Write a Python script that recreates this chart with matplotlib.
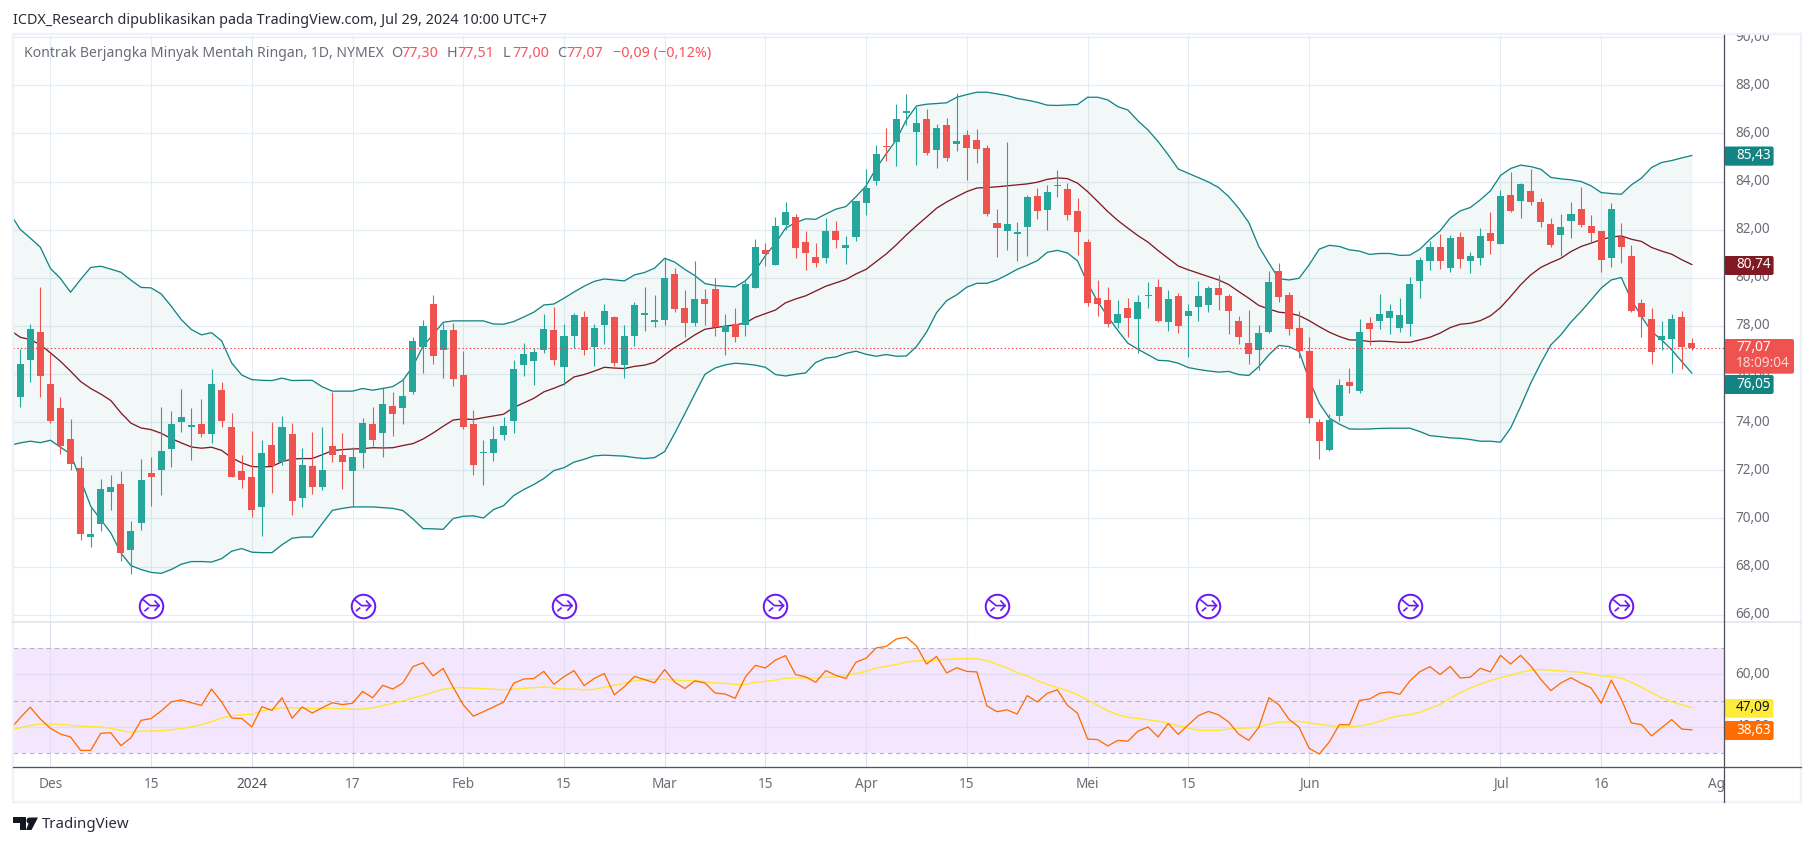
import matplotlib
matplotlib.use("Agg")
import matplotlib.pyplot as plt
import numpy as np
from matplotlib.patches import FancyBboxPatch, Polygon, Circle, Rectangle

# daily candles, Nov 28 2023 - Jul 29 2024
opens = [
    75.06, 76.57, 77.76, 75.60, 74.61, 73.32, 72.11, 69.25, 69.75, 71.12,
    71.45, 68.71, 69.83, 71.91, 72.03, 72.90, 74.02, 73.78, 73.94, 73.53,
    75.35, 73.82, 71.99, 71.74, 70.49, 73.07, 72.36, 73.53, 70.87, 72.20,
    71.32, 73.03, 72.65, 71.99, 72.70, 73.94, 73.57, 74.69, 74.57, 75.27,
    77.14, 78.93, 77.02, 77.85, 75.98, 73.94, 72.74, 72.74, 73.48, 74.07,
    76.39, 76.56, 77.02, 77.85, 76.31, 77.60, 78.35, 77.14, 78.04, 78.37,
    76.38, 77.58, 78.46, 78.17, 78.25, 80.16, 78.75, 78.13, 79.12, 79.54,
    77.75, 78.08, 78.04, 79.58, 81.16, 80.53, 82.20, 82.53, 81.49, 80.87,
    80.83, 81.95, 81.24, 81.70, 83.11, 84.02, 85.48, 85.65, 86.85, 86.06,
    86.60, 85.31, 86.35, 85.56, 85.94, 85.73, 85.40, 82.28, 81.95, 81.82,
    82.11, 83.40, 82.82, 83.82, 83.69, 82.78, 81.49, 79.16, 79.08, 78.13,
    78.75, 78.29, 79.25, 79.62, 78.17, 79.25, 78.42, 78.79, 78.87, 79.58,
    79.25, 78.21, 77.30, 77.00, 77.75, 80.29, 79.29, 77.92, 76.96, 74.01,
    72.85, 74.26, 75.68, 75.30, 78.13, 78.21, 78.34, 77.92, 78.09, 79.87,
    80.70, 81.29, 80.41, 81.70, 80.70, 80.83, 81.87, 81.41, 83.45, 83.20,
    83.61, 83.16, 82.24, 81.78, 82.37, 82.86, 82.16, 81.95, 80.83, 81.70,
    80.91, 78.96, 78.29, 77.42, 77.46, 78.38, 77.30,
]
closes = [
    76.43, 77.89, 75.94, 74.07, 73.03, 72.28, 69.37, 69.37, 71.24, 71.32,
    68.58, 69.50, 71.61, 71.74, 72.82, 73.94, 74.23, 73.90, 73.53, 75.60,
    74.07, 71.74, 71.61, 70.37, 72.74, 72.16, 73.82, 70.74, 72.24, 71.32,
    72.03, 72.65, 72.36, 72.57, 73.98, 73.24, 74.77, 74.36, 75.10, 77.39,
    78.01, 76.77, 77.85, 75.81, 73.82, 72.24, 72.78, 73.32, 73.86, 76.23,
    76.85, 76.93, 77.89, 76.60, 77.60, 78.47, 77.02, 77.93, 78.62, 76.46,
    77.58, 78.87, 78.54, 78.25, 79.99, 78.71, 78.13, 79.12, 78.91, 77.96,
    78.00, 77.54, 79.75, 81.28, 80.99, 82.16, 82.74, 81.24, 81.03, 80.62,
    81.95, 81.57, 81.37, 83.19, 83.73, 85.15, 85.42, 86.60, 86.93, 86.43,
    85.19, 86.23, 84.98, 85.69, 85.40, 85.35, 82.65, 82.07, 82.24, 81.91,
    83.36, 82.78, 83.57, 83.86, 82.61, 81.91, 78.96, 78.91, 78.08, 78.50,
    78.33, 79.00, 79.29, 78.21, 79.12, 78.00, 78.62, 79.25, 79.58, 79.29,
    78.63, 77.55, 76.84, 77.71, 79.83, 79.21, 77.88, 76.96, 74.18, 73.22,
    74.10, 75.55, 75.51, 77.75, 77.88, 78.50, 78.63, 78.46, 79.75, 80.75,
    81.29, 80.70, 81.66, 80.79, 80.91, 81.74, 81.53, 83.40, 82.78, 83.90,
    83.16, 82.32, 81.37, 82.12, 82.66, 82.20, 81.87, 80.75, 82.86, 81.29,
    78.63, 78.38, 76.92, 77.59, 78.29, 77.13, 77.07,
]
highs = [
    77.06, 78.10, 79.62, 76.88, 75.06, 74.15, 72.61, 70.50, 71.66, 71.82,
    71.99, 69.91, 72.49, 72.57, 74.65, 74.48, 75.40, 74.61, 74.98, 76.19,
    75.69, 74.40, 72.65, 73.65, 73.24, 74.02, 74.27, 73.98, 72.94, 73.61,
    73.82, 75.27, 73.57, 72.99, 74.19, 74.65, 75.48, 75.27, 75.85, 77.52,
    78.26, 79.30, 78.12, 78.14, 76.97, 74.52, 73.28, 73.86, 74.23, 76.60,
    77.31, 77.10, 78.51, 78.80, 78.10, 78.55, 78.60, 78.10, 78.91, 78.42,
    78.04, 79.00, 79.62, 79.29, 80.83, 80.41, 79.50, 80.70, 79.54, 79.99,
    78.50, 78.75, 79.87, 81.61, 81.45, 82.53, 83.15, 82.65, 81.95, 81.45,
    82.49, 82.36, 81.74, 83.19, 84.52, 85.52, 86.23, 87.22, 87.64, 87.11,
    87.02, 86.39, 86.64, 87.68, 86.14, 86.19, 85.52, 82.86, 85.65, 82.32,
    83.44, 83.73, 83.86, 84.48, 83.94, 83.32, 81.61, 79.91, 79.62, 79.08,
    79.16, 79.29, 79.83, 79.95, 79.50, 79.37, 78.91, 79.87, 79.66, 80.12,
    79.33, 78.42, 78.67, 78.04, 80.29, 80.62, 79.42, 78.63, 77.55, 74.14,
    74.35, 75.80, 76.26, 78.29, 78.38, 79.33, 78.92, 79.17, 80.04, 80.87,
    81.53, 81.83, 81.78, 81.91, 81.08, 82.07, 82.74, 83.65, 84.40, 83.94,
    84.53, 83.32, 82.49, 82.66, 83.16, 83.78, 82.61, 81.95, 83.11, 82.28,
    81.37, 79.12, 78.75, 78.21, 78.50, 78.63, 77.51,
]
lows = [
    74.65, 75.69, 75.06, 73.96, 72.67, 72.03, 69.12, 68.83, 69.50, 70.37,
    68.25, 67.71, 69.54, 70.50, 70.99, 72.15, 73.61, 72.45, 73.40, 73.15,
    73.78, 71.74, 71.28, 70.08, 69.29, 71.07, 72.24, 70.16, 70.49, 71.03,
    71.20, 72.36, 71.24, 70.53, 72.11, 73.03, 72.57, 73.44, 73.94, 75.19,
    76.06, 76.43, 75.85, 75.52, 73.73, 71.82, 71.41, 72.40, 73.24, 73.57,
    75.94, 75.56, 76.89, 76.39, 75.56, 77.10, 76.81, 76.35, 77.25, 76.34,
    75.84, 77.17, 77.79, 77.96, 78.05, 78.58, 77.54, 78.00, 78.04, 77.58,
    76.79, 77.33, 77.58, 79.58, 80.49, 80.53, 81.99, 80.83, 80.33, 80.45,
    80.62, 81.24, 80.58, 81.53, 82.61, 83.86, 84.86, 84.65, 86.35, 84.69,
    85.11, 84.57, 84.86, 85.27, 84.07, 84.77, 82.57, 80.87, 81.16, 80.70,
    80.91, 82.45, 81.99, 83.36, 82.40, 80.95, 78.83, 78.42, 77.96, 77.92,
    77.54, 76.88, 78.75, 78.17, 77.79, 77.71, 76.71, 78.21, 78.58, 78.67,
    77.67, 77.25, 76.42, 76.17, 77.71, 79.00, 77.63, 76.67, 73.97, 72.48,
    72.81, 74.06, 75.22, 75.22, 77.21, 77.88, 77.67, 77.75, 77.59, 79.17,
    80.33, 80.37, 80.25, 80.41, 80.20, 80.54, 80.99, 81.41, 82.74, 82.49,
    83.03, 82.12, 81.29, 80.91, 81.66, 82.12, 81.49, 80.25, 80.45, 80.62,
    78.58, 77.55, 76.42, 77.00, 76.05, 76.21, 77.00,
]

# indicators, first value is the bar before the first candle
bb_upper = [
    82.67,
    82.01, 81.65, 81.27, 80.39, 79.97, 79.40, 79.93, 80.43, 80.48, 80.36,
    80.23, 79.90, 79.60, 79.58, 79.33, 78.82, 78.26, 77.85, 77.63, 77.72,
    77.38, 76.46, 75.96, 75.77, 75.74, 75.73, 75.83, 75.73, 75.74, 75.74,
    75.47, 75.29, 75.29, 75.29, 75.40, 75.33, 75.40, 75.48, 75.74, 76.32,
    77.16, 77.64, 78.15, 78.21, 78.21, 78.21, 78.21, 78.08, 78.07, 78.18,
    78.37, 78.57, 78.87, 78.91, 79.15, 79.41, 79.65, 79.85, 79.95, 79.91,
    79.87, 80.12, 80.22, 80.40, 80.81, 80.65, 80.35, 80.09, 79.76, 79.68,
    79.65, 79.62, 79.87, 80.30, 80.92, 81.43, 82.06, 82.29, 82.45, 82.43,
    82.65, 82.85, 82.96, 83.37, 83.82, 84.55, 85.15, 85.73, 86.56, 87.14,
    87.21, 87.24, 87.27, 87.50, 87.61, 87.71, 87.71, 87.64, 87.57, 87.45,
    87.38, 87.29, 87.17, 87.16, 87.18, 87.20, 87.50, 87.50, 87.39, 87.11,
    86.97, 86.52, 86.14, 85.66, 85.11, 84.52, 84.34, 84.16, 83.98, 83.75,
    83.38, 82.89, 82.30, 81.30, 80.61, 79.96, 79.91, 79.98, 80.54, 81.19,
    81.35, 81.30, 81.16, 81.11, 80.97, 81.01, 81.01, 80.93, 80.94, 81.19,
    81.60, 81.95, 82.48, 82.78, 82.92, 83.24, 83.61, 84.25, 84.54, 84.68,
    84.62, 84.51, 84.17, 84.11, 84.07, 84.00, 83.82, 83.54, 83.50, 83.47,
    83.86, 84.14, 84.58, 84.79, 84.87, 84.98, 85.08,
]
bb_basis = [
    77.82,
    77.53, 77.43, 77.22, 76.88, 76.53, 76.12, 75.69, 75.40, 75.17, 74.90,
    74.39, 73.96, 73.76, 73.69, 73.54, 73.32, 73.14, 72.97, 72.92, 72.96,
    72.83, 72.52, 72.31, 72.16, 72.14, 72.16, 72.36, 72.47, 72.49, 72.49,
    72.65, 72.82, 72.86, 72.89, 72.90, 72.94, 72.93, 72.94, 73.03, 73.11,
    73.30, 73.55, 73.83, 74.09, 74.14, 74.11, 74.19, 74.26, 74.33, 74.61,
    74.80, 74.99, 75.26, 75.41, 75.58, 75.88, 75.98, 76.12, 76.28, 76.25,
    76.23, 76.32, 76.37, 76.49, 76.80, 77.10, 77.35, 77.63, 77.86, 77.93,
    77.99, 78.04, 78.12, 78.36, 78.51, 78.66, 78.96, 79.12, 79.25, 79.45,
    79.65, 79.79, 79.93, 80.16, 80.35, 80.67, 80.99, 81.37, 81.78, 82.16,
    82.52, 82.89, 83.15, 83.37, 83.58, 83.73, 83.75, 83.78, 83.82, 83.86,
    83.90, 83.97, 84.09, 84.15, 84.12, 83.93, 83.58, 83.17, 82.75, 82.38,
    82.06, 81.75, 81.48, 81.13, 80.81, 80.49, 80.33, 80.19, 80.05, 79.91,
    79.72, 79.43, 79.15, 78.85, 78.70, 78.57, 78.53, 78.43, 78.22, 77.97,
    77.74, 77.56, 77.42, 77.41, 77.35, 77.37, 77.35, 77.32, 77.32, 77.42,
    77.53, 77.70, 77.93, 78.07, 78.11, 78.22, 78.42, 78.76, 79.22, 79.71,
    80.12, 80.43, 80.63, 80.81, 81.09, 81.30, 81.44, 81.59, 81.69, 81.74,
    81.60, 81.51, 81.26, 81.11, 80.98, 80.75, 80.55,
]
bb_lower = [
    73.04,
    73.14, 73.21, 73.15, 73.25, 72.96, 72.68, 71.61, 70.51, 69.95, 69.40,
    68.57, 68.04, 67.88, 67.76, 67.72, 67.88, 68.10, 68.21, 68.21, 68.19,
    68.33, 68.64, 68.75, 68.60, 68.58, 68.58, 68.91, 69.18, 69.23, 69.23,
    69.79, 70.34, 70.42, 70.48, 70.48, 70.48, 70.45, 70.42, 70.33, 69.98,
    69.58, 69.57, 69.55, 70.00, 70.09, 70.11, 70.02, 70.37, 70.53, 70.95,
    71.20, 71.41, 71.66, 71.99, 72.11, 72.34, 72.46, 72.60, 72.63, 72.61,
    72.59, 72.53, 72.49, 72.53, 72.78, 73.54, 74.35, 75.18, 75.99, 76.25,
    76.38, 76.45, 76.42, 76.37, 76.28, 75.98, 75.92, 75.99, 76.05, 76.48,
    76.66, 76.71, 76.86, 76.95, 76.82, 76.74, 76.81, 76.74, 76.75, 77.14,
    77.74, 78.55, 79.05, 79.29, 79.61, 79.77, 79.77, 79.91, 80.12, 80.35,
    80.52, 80.71, 81.06, 81.14, 81.03, 80.70, 79.77, 79.01, 78.39, 77.81,
    77.28, 77.03, 76.80, 76.57, 76.55, 76.45, 76.27, 76.19, 76.13, 76.08,
    76.11, 75.98, 75.94, 76.31, 76.80, 77.19, 77.14, 76.94, 75.76, 74.79,
    74.17, 73.92, 73.72, 73.71, 73.72, 73.74, 73.75, 73.75, 73.75, 73.61,
    73.44, 73.40, 73.35, 73.33, 73.28, 73.21, 73.21, 73.17, 73.75, 74.65,
    75.62, 76.45, 77.21, 77.63, 78.16, 78.60, 79.08, 79.57, 79.91, 80.01,
    79.08, 78.39, 77.77, 77.42, 77.01, 76.52, 76.04,
]
rsi = [
    39.1,
    43.5, 47.5, 43.0, 39.5, 37.3, 36.2, 31.1, 31.1, 37.6, 37.8,
    32.9, 35.9, 42.5, 43.2, 46.1, 49.5, 50.3, 49.2, 48.2, 54.4,
    49.5, 43.4, 43.2, 40.0, 47.7, 46.3, 51.1, 43.3, 47.6, 45.3,
    47.3, 49.2, 48.5, 49.0, 53.5, 51.1, 55.8, 54.4, 56.7, 62.9,
    64.4, 59.4, 62.2, 55.1, 48.4, 44.1, 45.8, 47.6, 49.4, 56.6,
    58.2, 58.4, 61.1, 56.2, 59.1, 61.4, 55.7, 58.4, 60.3, 52.2,
    55.3, 59.2, 58.0, 56.8, 61.8, 57.0, 54.6, 57.5, 56.7, 52.9,
    52.5, 50.9, 58.9, 63.4, 62.4, 65.4, 67.1, 59.9, 59.0, 57.0,
    61.4, 59.6, 58.4, 64.6, 66.1, 70.0, 70.6, 73.4, 74.1, 70.8,
    63.9, 66.8, 60.5, 62.5, 61.1, 60.9, 48.0, 45.8, 46.5, 44.9,
    51.9, 49.5, 52.8, 54.1, 48.2, 45.2, 35.4, 35.2, 32.8, 34.9,
    34.6, 38.4, 40.0, 36.2, 41.3, 37.2, 40.8, 44.3, 45.9, 44.6,
    41.9, 37.3, 34.9, 39.9, 51.1, 48.4, 42.9, 39.9, 31.9, 29.7,
    34.3, 40.9, 40.8, 50.1, 50.6, 52.8, 53.3, 52.4, 57.5, 61.0,
    62.9, 59.9, 63.0, 58.6, 58.9, 62.3, 60.9, 67.2, 63.9, 67.2,
    63.2, 58.1, 53.8, 56.7, 58.7, 56.6, 54.8, 49.0, 57.8, 50.5,
    41.5, 40.9, 36.6, 39.7, 42.8, 39.2, 38.9,
]
rsi_ma = [
    38.9,
    39.7, 40.6, 41.1, 41.1, 41.0, 40.6, 40.3, 40.1, 40.0, 39.5,
    38.6, 38.0, 38.4, 38.5, 38.6, 38.9, 39.4, 40.1, 40.9, 42.0,
    43.4, 44.3, 44.7, 44.8, 46.1, 46.8, 47.3, 47.3, 47.2, 47.1,
    47.0, 47.0, 47.0, 46.7, 46.8, 47.3, 48.1, 49.0, 49.9, 51.0,
    52.0, 53.2, 54.3, 54.9, 54.9, 54.7, 54.6, 54.3, 54.1, 54.4,
    54.7, 54.9, 55.2, 54.8, 54.4, 54.4, 54.1, 54.3, 55.1, 55.8,
    56.6, 57.5, 58.0, 58.1, 58.1, 57.8, 57.6, 57.7, 57.2, 56.7,
    56.6, 56.1, 56.1, 57.0, 57.3, 57.8, 58.5, 58.6, 58.6, 58.6,
    58.9, 59.0, 59.6, 60.3, 61.1, 62.4, 63.0, 63.7, 64.7, 65.1,
    65.1, 65.4, 65.7, 65.9, 65.9, 65.9, 65.2, 63.8, 62.4, 60.6,
    59.4, 57.6, 56.2, 54.9, 53.8, 52.2, 50.3, 48.2, 46.2, 44.6,
    43.7, 43.2, 42.7, 42.2, 41.4, 40.5, 39.6, 38.7, 38.7, 38.7,
    39.2, 39.5, 39.6, 40.0, 41.1, 41.8, 41.9, 42.2, 41.5, 41.0,
    40.5, 40.1, 40.0, 40.4, 41.0, 42.2, 43.4, 44.3, 44.7, 45.6,
    47.1, 48.5, 50.9, 53.0, 54.8, 56.3, 57.6, 58.7, 59.6, 60.8,
    61.5, 61.8, 61.5, 61.3, 61.0, 60.8, 60.1, 59.4, 59.2, 58.5,
    57.0, 55.1, 53.0, 51.1, 49.6, 48.4, 47.3,
]

# time axis ticks as bar numbers
tick_bars = [3, 13, 23, 33, 44, 54, 64, 74, 84, 94, 106, 116, 128, 147, 157]
tick_labels = ["Des", "15", "2024", "17", "Feb", "15", "Mar", "15", "Apr", "15",
               "Mei", "15", "Jun", "Jul", "16"]
next_tick_bar = 168.5
next_tick_label = "Ag"
event_bars = [13, 34, 54, 75, 97, 118, 138, 159]
event_price = 66.38
last_price = 77.07
price_ticks = list(range(66, 92, 2))
rsi_ticks = [40, 60]

UP = "#26a69a"
DOWN = "#ef5350"
TEAL = "#138484"
MAROON = "#801922"
GRID = "#e4edf3"
FRAME = "#eff2f8"
TEXT = "#6a6d78"
W, H = 1814, 846
plt.rcParams["font.family"] = ["Noto Sans", "DejaVu Sans"]


def box(x0, y0, x1, y1):
    # pixel box (y from the top) to figure fraction
    return [x0 / W, 1 - y1 / H, (x1 - x0) / W, (y1 - y0) / H]


PX = 1 / 100 * 72  # one pixel in points
LEFT, RIGHT, SCALE_R = 13, 1724.3, 1801
TOP, SPLIT, AXIS_Y, BOTTOM = 35, 622.3, 767.3, 801.7
bar_x0, bar_dx = 20.2, 10.07
xlim = ((LEFT - bar_x0) / bar_dx, (RIGHT - bar_x0) / bar_dx)
price_per_px = 1 / 24.07
price_lim = (84 - (SPLIT - 181.5) * price_per_px, 84 + (181.5 - TOP) * price_per_px)
rsi_per_px = 1 / 2.633
rsi_lim = (60 - (AXIS_Y - 674.3) * rsi_per_px, 60 + (674.3 - SPLIT) * rsi_per_px)

fig = plt.figure(figsize=(W / 100, H / 100), dpi=100, facecolor="white")
ax = fig.add_axes(box(LEFT, TOP, RIGHT, SPLIT))
ax_rsi = fig.add_axes(box(LEFT, SPLIT, RIGHT, AXIS_Y))
ax_time = fig.add_axes(box(LEFT, AXIS_Y, RIGHT, BOTTOM))
ax_price = fig.add_axes(box(RIGHT, TOP, SCALE_R, SPLIT))
ax_rsi_scale = fig.add_axes(box(RIGHT, SPLIT, SCALE_R, AXIS_Y))

for a in (ax, ax_rsi, ax_time, ax_price, ax_rsi_scale):
    a.set_xticks([])
    a.set_yticks([])
    for s in a.spines.values():
        s.set_visible(False)
for a in (ax, ax_rsi, ax_time):
    a.set_xlim(*xlim)
ax.set_ylim(*price_lim)
ax_price.set_ylim(*price_lim)
ax_rsi.set_ylim(*rsi_lim)
ax_rsi_scale.set_ylim(*rsi_lim)
ax_time.set_ylim(0, 1)

# grids
for a in (ax, ax_rsi):
    for t in tick_bars:
        a.axvline(t, color=GRID, lw=1.1 * PX, zorder=0)
for p in price_ticks:
    ax.axhline(p, color=GRID, lw=1.3 * PX, zorder=0)

# bollinger bands
opens, closes, highs, lows = map(np.array, (opens, closes, highs, lows))
bars = np.arange(len(opens))
line_x = np.arange(-1, len(opens))
ax.fill_between(line_x, bb_lower, bb_upper, color=TEAL, alpha=0.05, lw=0, zorder=1)
ax.plot(line_x, bb_upper, color=TEAL, lw=1.3 * PX, zorder=2)
ax.plot(line_x, bb_lower, color=TEAL, lw=1.3 * PX, zorder=2)
ax.plot(line_x, bb_basis, color=MAROON, lw=1.3 * PX, zorder=2)

# candles
colors = np.where(closes >= opens, UP, DOWN)
ax.vlines(bars, lows, highs, colors=colors, lw=1.1 * PX, zorder=3)
body_low = np.minimum(opens, closes)
body_h = np.maximum(np.abs(closes - opens), 0.04)
ax.bar(bars, body_h, bottom=body_low, width=0.7, color=colors, lw=0, zorder=4)

ax.axhline(last_price, color="#f23645", lw=1.1 * PX, ls=(0, (1.2, 2.2)), zorder=5)

# event markers
ax.scatter(event_bars, [event_price] * len(event_bars), s=(23.5 * PX) ** 2,
           facecolor="white", edgecolor="#6a1bf5", lw=2 * PX, zorder=6)
dx = 1 / bar_dx
dy = price_per_px
for b in event_bars:
    ax.plot(b + dx * np.array([-7.5, -1, 8]), event_price + dy * np.array([5.5, 0, 0]),
            color="#6a1bf5", lw=1.7 * PX, zorder=7)
    ax.plot(b + dx * np.array([4, 8, 4]), event_price + dy * np.array([4.5, 0, -4.5]),
            color="#6a1bf5", lw=1.7 * PX, zorder=7)
    ax.plot(b + dx * np.array([-6, -3]), event_price + dy * np.array([-5, -2.5]),
            color="#6a1bf5", lw=1.7 * PX, zorder=7)

# rsi pane
ax_rsi.axhspan(30, 70, color="#f4e7fd", lw=0, zorder=0.5)
for t in tick_bars:
    ax_rsi.axvline(t, color="#e2def2", lw=1.1 * PX, zorder=1)
for v in rsi_ticks:
    ax_rsi.axhline(v, color="#e0dcf2", lw=1.3 * PX, zorder=2)
for v in (30, 50, 70):
    ax_rsi.axhline(v, color="#b4b2bc", lw=1.1 * PX, ls=(0, (4, 3.5)), zorder=2)
ax_rsi.plot(line_x, rsi_ma, color="#ffe733", lw=1.4 * PX, zorder=3)
ax_rsi.plot(line_x, rsi, color="#ff6d00", lw=1.3 * PX, zorder=4)

# scale labels
fs = 13.6 * PX
fs_head = 14.4 * PX
for p in price_ticks:
    ax_price.text(0.148, p, f"{p},00", transform=ax_price.get_yaxis_transform(),
                  color=TEXT, fontsize=fs, va="center", ha="left", clip_on=True)
for v in rsi_ticks:
    ax_rsi_scale.text(0.148, v, f"{v},00", transform=ax_rsi_scale.get_yaxis_transform(),
                      color=TEXT, fontsize=fs, va="center", ha="left", clip_on=True)
for t, lab in zip(tick_bars, tick_labels):
    bold = lab == "2024"
    ax_time.text(t, 0.5, lab, ha="center", va="center", fontsize=fs, color="#50535e" if bold else TEXT,
                 fontweight="bold" if bold else "normal", clip_on=True)
ax_time.text(next_tick_bar, 0.5, next_tick_label, ha="center", va="center", fontsize=fs,
             color=TEXT, clip_on=True)

# overlay in pixels for frame, headers and value flags
over = fig.add_axes([0, 0, 1, 1], zorder=10)
over.set_xlim(0, W)
over.set_ylim(H, 0)
over.axis("off")
over.patch.set_alpha(0)

over.add_patch(Rectangle((LEFT, TOP - 1), SCALE_R - LEFT, BOTTOM - TOP + 1, fill=False,
                         ec=FRAME, lw=2.4 * PX))
over.plot([LEFT, SCALE_R], [SPLIT, SPLIT], color="#e0e3eb", lw=1.6 * PX)
over.plot([LEFT, SCALE_R], [AXIS_Y, AXIS_Y], color="#50535e", lw=1.3 * PX)
over.plot([RIGHT, RIGHT], [TOP, BOTTOM], color="#50535e", lw=1.3 * PX)


def flag(y0, y1, color, x1=1775.6):
    over.add_patch(FancyBboxPatch((RIGHT, y0), x1 - RIGHT - 2, y1 - y0, lw=0, fc=color,
                                  boxstyle="round,pad=0,rounding_size=2"))


flag_x = 1736
for y0, y1, c, txt, tc in [
    (146.5, 165.7, TEAL, "85,43", "white"),
    (256, 275, MAROON, "80,74", "white"),
    (375, 394, TEAL, "76,05", "white"),
    (699, 717.7, "#ffeb3b", "47,09", "#131722"),
    (721, 740, "#ff6d00", "38,63", "white"),
]:
    flag(y0, y1, c)
    over.text(flag_x, (y0 + y1) / 2 - 0.5, txt, color=tc, fontsize=fs, va="center", ha="left")
flag(339, 373.7, "#ef5350", x1=1796)
over.text(flag_x, 347.5, "77,07", color="white", fontsize=fs, va="center", ha="left")
over.text(flag_x, 363.5, "18:09:04", color="#fbd5d4", fontsize=fs, va="center", ha="left")

# header texts
over.text(13, 20, "ICDX_Research dipublikasikan pada TradingView.com, Jul 29, 2024 10:00 UTC+7",
          color="#2a2e39", fontsize=fs_head, va="center", ha="left")
over.text(23.5, 53.5, "Kontrak Berjangka Minyak Mentah Ringan, 1D, NYMEX", color=TEXT, fontsize=14 * PX,
          va="center", ha="left")
RED = "#f7525f"
for x, s, c in [(391, "O", TEXT), (401, "77,30", RED), (447, "H", TEXT), (457.5, "77,51", RED),
                (503, "L", TEXT), (512, "77,00", RED), (557, "C", TEXT), (566.5, "77,07", RED),
                (613, "\u22120,09 (\u22120,12%)", RED)]:
    over.text(x, 53.5, s, color=c, fontsize=fs_head, va="center", ha="left")

# tradingview logo
over.add_patch(Polygon([(13, 817.5), (26, 817.5), (26, 830), (19.5, 830), (19.5, 823.5), (13, 823.5)],
                       fc="#131722", lw=0))
over.add_patch(Circle((29.6, 820.6), 3.1, fc="#131722", lw=0))
over.add_patch(Polygon([(31.5, 830), (38, 817.5), (31, 817.5), (26, 830)], fc="#131722", lw=0))
over.text(42.3, 824.5, "TradingView", color="#2a2e39", fontsize=15 * PX, va="center", ha="left")

fig.savefig("out.png", dpi=100, facecolor="white")
